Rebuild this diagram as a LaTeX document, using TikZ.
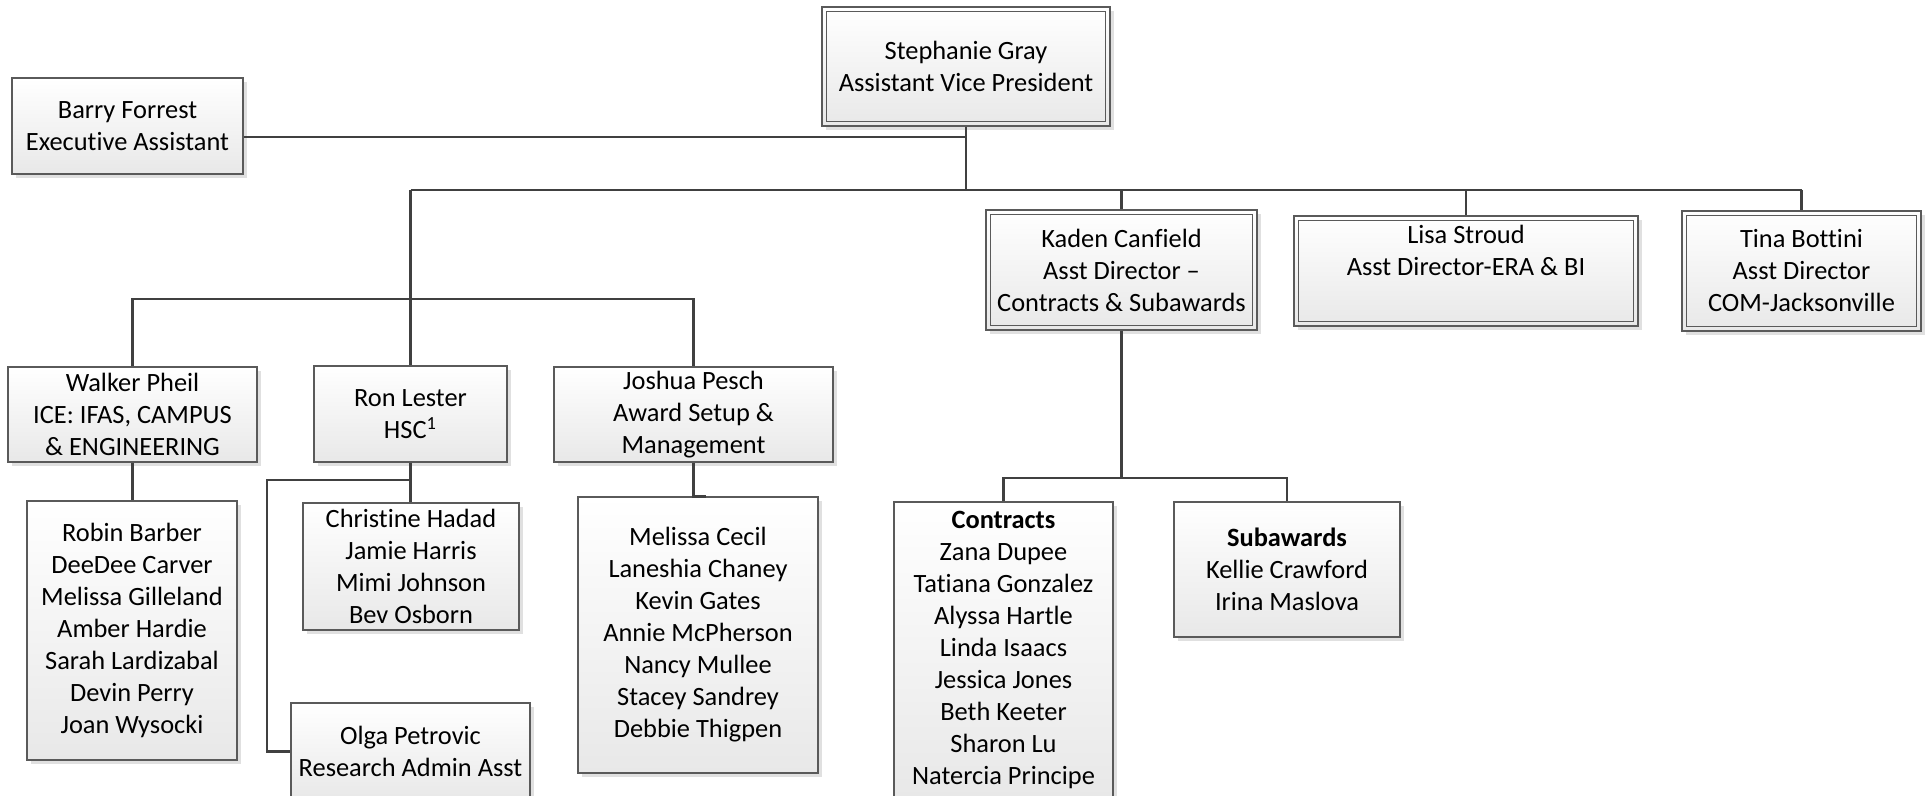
\documentclass[tikz,border=0pt]{standalone}
\usepackage{fontspec}
\setmainfont{Carlito}[Ligatures={TeX,NoCommon}]
\usetikzlibrary{shadows,calc}
\definecolor{linec}{HTML}{404040}
\definecolor{boxline}{HTML}{5A5A5A}
\begin{document}
\begin{tikzpicture}[x=0.5pt,y=-0.5pt,
  box/.style={draw=boxline, line width=0.6pt, top color=white, bottom color=black!9,
    drop shadow={shadow xshift=2pt, shadow yshift=-2pt, fill=black!12, opacity=1},
    align=center, inner sep=2pt, font=\fontsize{13.2pt}{16pt}\selectfont},
  dbox/.style={box, path picture={\draw[boxline, line width=0.6pt]
    ([shift={(2.2pt,2.2pt)}]path picture bounding box.south west) rectangle
    ([shift={(-2.2pt,-2.2pt)}]path picture bounding box.north east);}},
  conn/.style={draw=linec, line width=1.4pt}]
\useasboundingbox (0,0) rectangle (1929,796);
\fill[white] (0,0) rectangle (1929,796);
\clip (0,0) rectangle (1929,796);

\node[dbox, minimum width=144pt, minimum height=59.5pt] (sg) at (966,66.5) {Stephanie Gray\\Assistant Vice President};
\node[box, minimum width=115.5pt, minimum height=48pt] (bf) at (127.5,126) {Barry Forrest\\Executive Assistant};
\node[box, minimum width=124.5pt, minimum height=47.5pt] (wp) at (132.5,414.5) {Walker Pheil\\ICE: IFAS, CAMPUS\\\& ENGINEERING};
\node[box, minimum width=96.5pt, minimum height=48pt] (rl) at (410.5,414) {Ron Lester\\HSC\textsuperscript{1}};
\node[box, minimum width=139.5pt, minimum height=47.5pt] (jp) at (693.5,414.5) {Joshua Pesch\\Award Setup \&\\Management};
\node[box, minimum width=105pt, minimum height=129.5pt] (wc) at (132,630.5) {Robin Barber\\DeeDee Carver\\Melissa Gilleland\\Amber Hardie\\Sarah Lardizabal\\Devin Perry\\Joan Wysocki};
\node[box, minimum width=108pt, minimum height=63.5pt] (rc) at (411,566.5) {Christine Hadad\\Jamie Harris\\Mimi Johnson\\Bev Osborn};
\node[box, minimum width=119.5pt, minimum height=48.5pt] (op) at (410.5,751.5) {Olga Petrovic\\Research Admin Asst};
\node[box, minimum width=120pt, minimum height=138pt] (jc) at (698,635) {Melissa Cecil\\Laneshia Chaney\\Kevin Gates\\Annie McPherson\\Nancy Mullee\\Stacey Sandrey\\Debbie Thigpen};
\node[dbox, minimum width=135.5pt, minimum height=60pt] (kc) at (1121.5,270) {Kaden Canfield\\Asst Director –\\Contracts \& Subawards};
\node[dbox, minimum width=172pt, minimum height=55pt] (ls) at (1466,271) {Lisa Stroud\\Asst Director-ERA \& BI\\\strut};
\node[dbox, minimum width=119.5pt, minimum height=60pt] (tb) at (1801.5,271) {Tina Bottini\\Asst Director\\COM-Jacksonville};
\node[box, minimum width=109.5pt, minimum height=147.5pt] (ct) at (1003.5,649.5) {\textbf{Contracts}\\Zana Dupee\\Tatiana Gonzalez\\Alyssa Hartle\\Linda Isaacs\\Jessica Jones\\Beth Keeter\\Sharon Lu\\Natercia Principe};
\node[box, minimum width=113pt, minimum height=67.5pt] (sa) at (1287,569.5) {\textbf{Subawards}\\Kellie Crawford\\Irina Maslova};

\coordinate (bj) at (966,137);
\coordinate (bar) at (966,190);
\coordinate (lb) at (410.5,299);
\coordinate (oj) at (267,480);
\coordinate (kj) at (1121.5,478);

\draw[conn] (bf.east |- bj) -- (bj);
\draw[conn] (sg.south) -- (bar);
\draw[conn] (rl.north |- bar) -- (tb.north |- bar);
\draw[conn] (kc.north |- bar) -- (kc.north);
\draw[conn] (ls.north |- bar) -- (ls.north);
\draw[conn] (tb.north |- bar) -- (tb.north);
\draw[conn] (rl.north |- bar) -- (rl.north);
\draw[conn] (wp.north) |- (jp.north |- lb) -- (jp.north);
\draw[conn] (wp.south) -- (wp.south |- wc.north);
\draw[conn] (rl.south) -- (rl.south |- rc.north);
\draw[conn] (rl.south |- oj) -- (oj) |- (op.west);
\draw[conn] (jp.south) |- ($(jc.north)+(8,0)$);
\draw[conn] (kc.south) -- (kj);
\draw[conn] (ct.north) |- (kj) -| (sa.north);
\end{tikzpicture}
\end{document}
